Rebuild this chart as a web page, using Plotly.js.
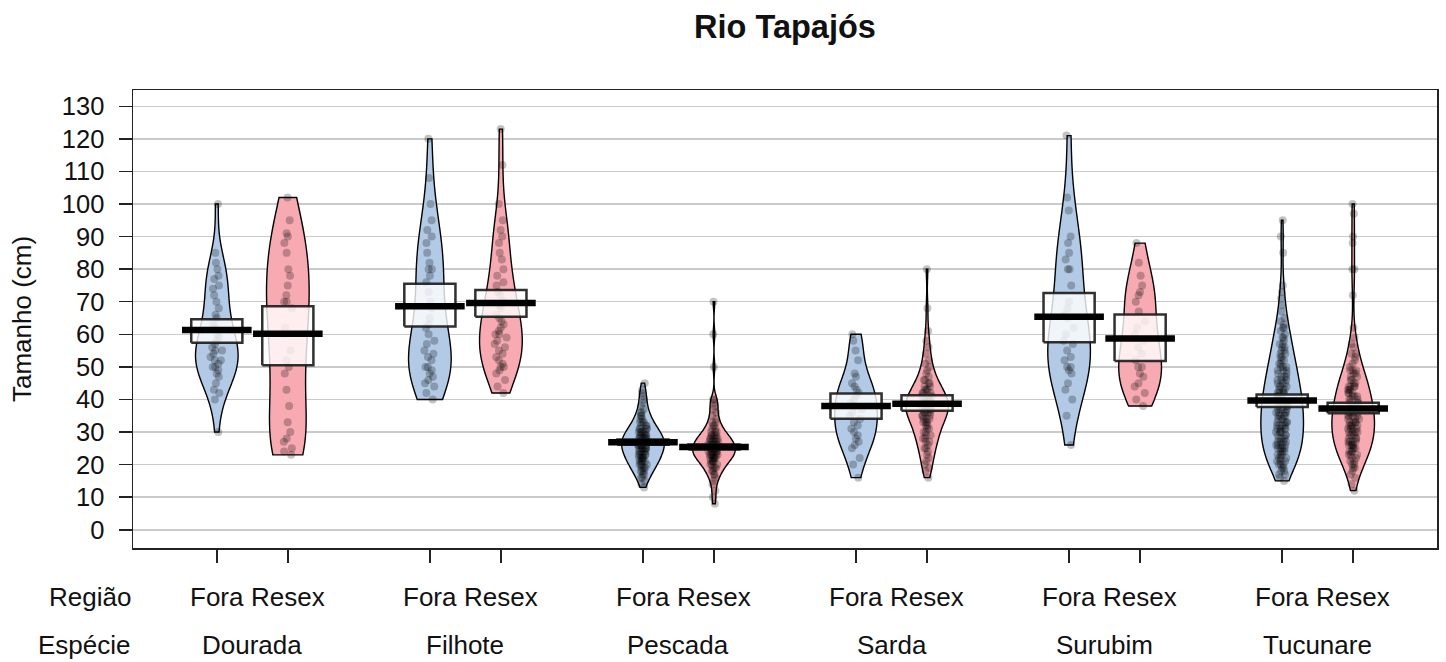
<!DOCTYPE html>
<html>
<head>
<meta charset="utf-8">
<script src="https://cdn.plot.ly/plotly-3.0.1.min.js"></script>
<style>html,body{margin:0;padding:0;background:#fff;}#chart{width:1446px;height:662px;}</style>
</head>
<body>
<div id="chart"></div>
<script>
// ---------- data ----------
const species = ['Dourada', 'Filhote', 'Pescada', 'Sarda', 'Surubim', 'Tucunare'];
const regions = ['Fora', 'Resex'];

const douradaFora = [100, 85, 82, 80, 78, 77, 75, 74, 72, 70, 68, 66, 65, 63, 62, 60, 59, 58, 57, 56, 55, 55, 54, 53, 52, 52, 51, 50, 50, 49, 48, 47, 45, 43, 42, 40, 30];
const douradaResex = [102, 95, 91, 90, 88, 85, 80, 78, 75, 72, 70, 70, 68, 62, 60, 55, 52, 50, 48, 43, 38, 33, 30, 28, 27, 25, 24, 23];
const filhoteFora = [120, 108, 100, 95, 92, 90, 88, 85, 82, 80, 80, 78, 76, 73, 70, 68, 65, 63, 62, 60, 58, 57, 55, 54, 53, 52, 50, 50, 49, 48, 47, 46, 45, 44, 42, 40];
const filhoteResex = [123, 112, 100, 95, 92, 90, 88, 85, 83, 80, 78, 76, 75, 73, 72, 70, 69, 68, 66, 65, 64, 63, 62, 61, 60, 60, 59, 58, 57, 56, 55, 54, 53, 52, 51, 50, 50, 49, 48, 46, 44, 42];
const pescadaFora = [13, 14, 15, 16, 16, 17, 17, 18, 18, 18, 19, 19, 19, 20, 20, 20, 20, 21, 21, 21, 21, 22, 22, 22, 22, 22, 23, 23, 23, 23, 23, 24, 24, 24, 24, 24, 25, 25, 25, 25, 25, 25, 26, 26, 26, 26, 26, 26, 27, 27, 27, 27, 27, 27, 28, 28, 28, 28, 28, 28, 29, 29, 29, 29, 29, 30, 30, 30, 30, 30, 31, 31, 31, 31, 32, 32, 32, 33, 33, 33, 34, 34, 35, 35, 36, 36, 37, 38, 39, 40, 41, 42, 43, 45];
const pescadaResex = [8, 10, 12, 14, 15, 16, 17, 17, 18, 18, 19, 19, 19, 20, 20, 20, 21, 21, 21, 21, 22, 22, 22, 22, 22, 23, 23, 23, 23, 23, 23, 24, 24, 24, 24, 24, 24, 25, 25, 25, 25, 25, 25, 26, 26, 26, 26, 26, 26, 27, 27, 27, 27, 27, 28, 28, 28, 28, 28, 29, 29, 29, 29, 30, 30, 30, 31, 31, 32, 32, 33, 33, 34, 35, 36, 37, 38, 39, 40, 40, 50, 60, 70];
const sardaFora = [60, 58, 55, 52, 48, 47, 45, 44, 43, 42, 41, 40, 39, 38, 37, 36, 35, 34, 33, 32, 31, 30, 29, 28, 27, 26, 25, 22, 20, 16];
const sardaResex = [16, 18, 19, 20, 21, 22, 23, 24, 25, 25, 26, 27, 27, 28, 28, 29, 29, 30, 30, 31, 31, 32, 32, 33, 33, 33, 34, 34, 34, 35, 35, 35, 36, 36, 36, 36, 37, 37, 37, 37, 38, 38, 38, 38, 39, 39, 39, 39, 40, 40, 40, 40, 41, 41, 41, 42, 42, 42, 43, 43, 43, 44, 44, 45, 45, 46, 46, 47, 48, 49, 50, 51, 52, 54, 56, 58, 61, 68, 80];
const surubimFora = [121, 102, 98, 90, 88, 85, 83, 80, 80, 75, 70, 68, 66, 65, 62, 60, 58, 57, 55, 53, 52, 50, 50, 49, 48, 45, 43, 40, 35, 26];
const surubimResex = [88, 82, 78, 75, 73, 72, 70, 67, 64, 62, 60, 58, 56, 54, 52, 50, 50, 48, 47, 45, 44, 42, 40, 38];
const tucunareFora = [15, 16, 17, 17, 18, 18, 19, 19,
  20, 20, 20, 21, 21, 21, 22, 22, 22, 23, 23, 23, 24, 24, 24,
  25, 25, 25, 25, 26, 26, 26, 26, 27, 27, 27, 27, 28, 28, 28, 29, 29, 29,
  30, 30, 30, 30, 31, 31, 31, 31, 32, 32, 32, 32, 33, 33, 33, 33, 34, 34, 34,
  35, 35, 35, 35, 36, 36, 36, 36, 37, 37, 37, 37, 38, 38, 38, 39, 39, 39,
  40, 40, 40, 40, 41, 41, 41, 42, 42, 42, 42, 43, 43, 43, 44, 44, 44,
  45, 45, 45, 46, 46, 46, 47, 47, 47, 48, 48, 49, 49, 49,
  50, 50, 50, 51, 51, 52, 52, 53, 53, 54, 54,
  55, 55, 56, 56, 57, 57, 58, 59, 59,
  60, 61, 62, 62, 63, 64, 65, 67, 69, 71, 73, 75, 85, 90, 95];
const tucunareResex = [12, 14, 16, 17, 18, 19, 19,
  20, 20, 21, 21, 22, 22, 23, 23, 23, 24, 24, 24,
  25, 25, 25, 26, 26, 26, 26, 27, 27, 27, 27, 28, 28, 28, 29, 29, 29,
  30, 30, 30, 30, 31, 31, 31, 31, 32, 32, 32, 32, 33, 33, 33, 33, 34, 34, 34,
  35, 35, 35, 35, 36, 36, 36, 36, 37, 37, 37, 37, 38, 38, 38, 39, 39, 39,
  40, 40, 40, 41, 41, 41, 42, 42, 42, 43, 43, 43, 44, 44, 44, 44,
  45, 45, 46, 46, 47, 47, 48, 48, 49, 49, 49,
  50, 51, 52, 53, 54, 54, 56, 57, 59, 62, 72, 80, 80, 88, 90, 97, 100];

const meanFora  = [61.3, 68.6, 26.9, 38.0, 65.4, 39.7];
const meanResex = [60.2, 69.6, 25.4, 38.7, 58.7, 37.2];
const infLowFora   = [57.4, 62.4, 26.1, 34.1, 57.6, 37.7];
const infHighFora  = [64.6, 75.5, 27.7, 41.8, 72.7, 41.5];
const infLowResex  = [50.5, 65.4, 24.6, 36.5, 51.8, 35.8];
const infHighResex = [68.6, 73.6, 26.2, 41.3, 66.1, 39.0];

const yTicks = [0, 10, 20, 30, 40, 50, 60, 70, 80, 90, 100, 110, 120, 130];

// ---------- build ----------
const samplesFora  = [douradaFora, filhoteFora, pescadaFora, sardaFora, surubimFora, tucunareFora];
const samplesResex = [douradaResex, filhoteResex, pescadaResex, sardaResex, surubimResex, tucunareResex];
const colFill = {Fora: 'rgb(178,202,230)', Resex: 'rgb(247,170,178)'};
const FONT = 'Liberation Sans, Arial, sans-serif';

function nrd0(arr) {
  const a = arr.slice().sort((p, q) => p - q);
  const n = a.length;
  const m = a.reduce((s, v) => s + v, 0) / n;
  const sd = Math.sqrt(a.reduce((s, v) => s + (v - m) * (v - m), 0) / (n - 1));
  const q = p => { const h = (n - 1) * p, lo = Math.floor(h); return a[lo] + (h - lo) * ((a[Math.min(lo + 1, n - 1)]) - a[lo]); };
  const iqr = q(0.75) - q(0.25);
  let lo = Math.min(sd, iqr / 1.34);
  if (!lo) lo = sd || 1;
  return 0.9 * lo * Math.pow(n, -0.2);
}

const traces = [];
const beans = [];
species.forEach((sp, i) => {
  [['Fora', samplesFora[i], meanFora[i], infLowFora[i], infHighFora[i]],
   ['Resex', samplesResex[i], meanResex[i], infLowResex[i], infHighResex[i]]].forEach((r, j) => {
    beans.push({sp, region: r[0], pos: 1 + 3 * i + j, vals: r[1], mean: r[2], lo: r[3], hi: r[4]});
  });
});

beans.forEach(b => {
  traces.push({
    type: 'violin', orientation: 'v',
    x: b.vals.map(() => b.pos), y: b.vals,
    points: 'all', pointpos: 0, jitter: 0.3,
    marker: {color: 'rgba(0,0,0,0.24)', size: 8, line: {width: 0}},
    fillcolor: colFill[b.region], line: {color: '#000', width: 1.4},
    spanmode: 'hard', scalemode: 'width', width: 0.6,
    bandwidth: nrd0(b.vals),
    box: {visible: false}, meanline: {visible: false},
    hoverinfo: 'skip', showlegend: false
  });
});

// inference boxes
const bx = [], by = [];
const BW = 0.36;
beans.forEach(b => {
  bx.push(b.pos - BW, b.pos + BW, b.pos + BW, b.pos - BW, b.pos - BW, null);
  by.push(b.lo, b.lo, b.hi, b.hi, b.lo, null);
});
traces.push({type: 'scatter', mode: 'lines', x: bx, y: by, fill: 'toself',
  fillcolor: 'rgba(255,255,255,0.8)', line: {color: 'rgba(25,25,25,0.9)', width: 2.5},
  hoverinfo: 'skip', showlegend: false});

// mean lines
const mx = [], my = [];
const MW = 0.49;
beans.forEach(b => { mx.push(b.pos - MW, b.pos + MW, null); my.push(b.mean, b.mean, null); });
traces.push({type: 'scatter', mode: 'lines', x: mx, y: my,
  line: {color: '#000', width: 6.5}, hoverinfo: 'skip', showlegend: false});

// labels
const annotations = [];
const LBL = 26;
annotations.push({xref: 'paper', yref: 'paper', x: 0, y: 0, xanchor: 'right', yanchor: 'middle', yshift: -49,
  text: 'Região', showarrow: false, font: {size: LBL, color: '#111', family: FONT}});
annotations.push({xref: 'paper', yref: 'paper', x: 0, y: 0, xanchor: 'right', yanchor: 'middle', yshift: -97,
  text: 'Espécie', showarrow: false, font: {size: LBL, color: '#111', family: FONT}});
beans.forEach(b => annotations.push({xref: 'x', yref: 'paper', x: b.pos, y: 0, xanchor: 'center', yanchor: 'middle', yshift: -49,
  text: b.region, showarrow: false, font: {size: LBL, color: '#111', family: FONT}}));
species.forEach((sp, i) => annotations.push({xref: 'x', yref: 'paper', x: 1.5 + 3 * i, y: 0, xanchor: 'center', yanchor: 'middle', yshift: -97,
  text: sp, showarrow: false, font: {size: LBL, color: '#111', family: FONT}}));
annotations.push({xref: 'paper', yref: 'paper', x: 0, y: 0.5, xshift: -111, xanchor: 'center', yanchor: 'middle', textangle: -90,
  text: 'Tamanho (cm)', showarrow: false, font: {size: 26, color: '#111', family: FONT}});

const layout = {
  width: 1446, height: 662,
  margin: {l: 133, r: 9, t: 90, b: 114},
  paper_bgcolor: '#fff', plot_bgcolor: '#fff',
  font: {family: FONT, color: '#111'},
  title: {text: 'Rio Tapajós', font: {size: 32.5, weight: 'bold', family: FONT, color: '#111'},
          x: 0.5, xref: 'paper', y: 1 - 27 / 662, yref: 'container', yanchor: 'middle'},
  violinmode: 'overlay', violingap: 0, violingroupgap: 0,
  showlegend: false,
  xaxis: {type: 'linear', range: [-0.18, 18.18], showgrid: false, zeroline: false,
          showline: true, mirror: true, linecolor: '#222', linewidth: 1.5,
          ticks: 'outside', tickvals: beans.map(b => b.pos), ticklen: 13, tickwidth: 1.5, tickcolor: '#222',
          showticklabels: false, fixedrange: true},
  yaxis: {type: 'linear', range: [-5.6, 135.0], tickvals: yTicks, ticktext: yTicks.map(String),
          showgrid: true, gridcolor: '#cacaca', gridwidth: 1.5, zeroline: false,
          showline: true, mirror: true, linecolor: '#222', linewidth: 1.5,
          ticks: 'outside', ticklen: 13, tickwidth: 1.5, tickcolor: '#222',
          tickfont: {size: 25.5, color: '#111', family: FONT}, ticklabelstandoff: 9, fixedrange: true},
  annotations: annotations
};

Plotly.newPlot('chart', traces, layout, {displayModeBar: false, staticPlot: true});
</script>
</body>
</html>
